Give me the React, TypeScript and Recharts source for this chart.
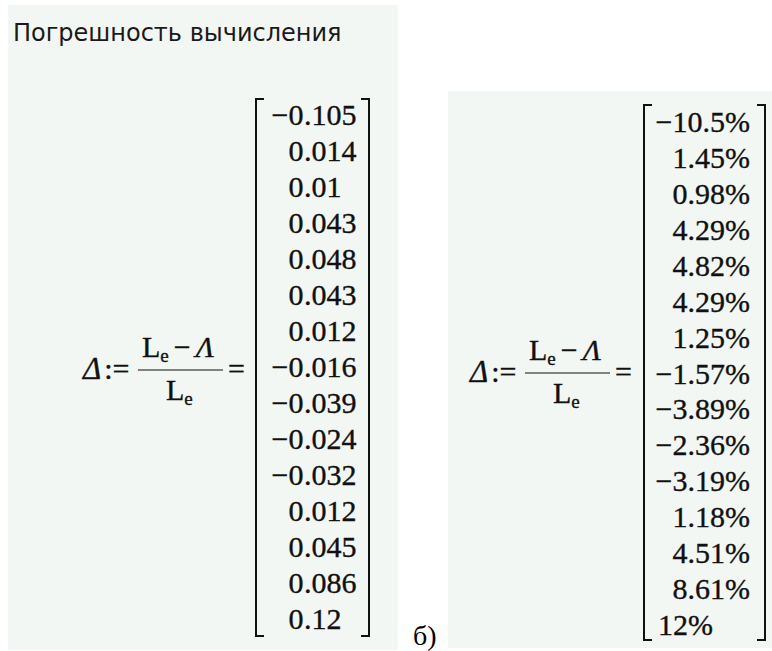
import React from 'react';
import { ScatterChart, Scatter, XAxis, YAxis } from 'recharts';

// ---- data ----
const title = 'Погрешность вычисления';
const panelLabel = 'б)';
const deltaValues = [-0.105, 0.014, 0.01, 0.043, 0.048, 0.043, 0.012, -0.016, -0.039, -0.024, -0.032, 0.012, 0.045, 0.086, 0.12];
const deltaPercent = [-10.5, 1.45, 0.98, 4.29, 4.82, 4.29, 1.25, -1.57, -3.89, -2.36, -3.19, 1.18, 4.51, 8.61, 12];

const fmtDecimal = (v: number) => String(v).replace('-', '\u2212');
const fmtPercent = (v: number) => `${String(v).replace('-', '\u2212')}%`;

const decimalRows = deltaValues.map((v, i) => ({ col: 0, row: i, value: v, label: fmtDecimal(v) }));
const percentRows = deltaPercent.map((v, i) => ({ col: 0, row: i, value: v, label: fmtPercent(v) }));

const PANEL_BG = '#f3f7f4';
const INK = '#111';
const MATH_FONT = '"Liberation Serif", serif';
const FS = 30;
const HEAVY = 0.35;

// decimal-aligned text (Mathcad style)
const DecimalCell = (props: any) => {
  const { cx, cy, payload } = props;
  const s: string = payload.label;
  const k = s.indexOf('.');
  const intPart = s.slice(0, k);
  const fracPart = s.slice(k);
  return (
    <g fontFamily={MATH_FONT} fontSize={FS} fill={INK} stroke={INK} strokeWidth={HEAVY}>
      <text x={cx} y={cy + 10} textAnchor="end">{intPart}</text>
      <text x={cx + 0.5} y={cy + 10} textAnchor="start">{fracPart}</text>
    </g>
  );
};

// right-aligned text; whole numbers start at the column's left
const RightCell = (props: any) => {
  const { cx, cy, payload } = props;
  const s: string = payload.label;
  const whole = s.indexOf('.') < 0;
  return (
    <text x={whole ? cx - 92 : cx} y={cy + 10} textAnchor={whole ? 'start' : 'end'} fontFamily={MATH_FONT} fontSize={FS} fill={INK} stroke={INK} strokeWidth={HEAVY}>{s}</text>
  );
};

const Matrix = ({ left, top, width, height, data, margin, shape }: any) => (
  <div style={{ position: 'absolute', left, top }}>
    <ScatterChart width={width} height={height} margin={margin}>
      <XAxis dataKey="col" type="number" domain={[-0.5, 0.5]} hide />
      <YAxis dataKey="row" type="number" domain={[-0.5, 14.5]} reversed hide />
      <Scatter data={data} dataKey="row" isAnimationActive={false} shape={shape} />
    </ScatterChart>
  </div>
);

const Bracket = ({ x1, x2, y1, y2 }: any) => (
  <g stroke={INK} strokeWidth={2} fill="none">
    <path d={`M${x1 + 8},${y1} H${x1} V${y2} H${x1 + 8}`} />
    <path d={`M${x2 - 8},${y1} H${x2} V${y2} H${x2 - 8}`} />
  </g>
);

const Formula = ({ dx, dy }: any) => (
  <g transform={`translate(${dx},${dy})`} fontFamily={MATH_FONT} fill={INK} stroke={INK} strokeWidth={HEAVY}>
    <text x={83} y={379} fontSize={31}>
      <tspan fontStyle="italic">Δ</tspan>
      <tspan dx={3} fontSize={FS}>:=</tspan>
    </text>
    <text x={142} y={357} fontSize={FS}>
      <tspan>L</tspan>
      <tspan fontSize={19} dy={5}>e</tspan>
      <tspan dx={5} dy={-5}>−</tspan>
      <tspan dx={5} fontStyle="italic">Λ</tspan>
    </text>
    <line x1={138} x2={223} y1={370} y2={370} stroke={INK} strokeWidth={1.2} />
    <text x={166} y={400} fontSize={FS}>
      <tspan>L</tspan>
      <tspan fontSize={19} dy={5}>e</tspan>
    </text>
    <text x={228} y={379} fontSize={FS}>=</text>
  </g>
);

export default function App() {
  return (
    <div style={{ position: 'relative', width: 772, height: 651, overflow: 'hidden', background: '#fff' }}>
      <style>{'body{margin:0}'}</style>
      <div style={{ position: 'absolute', left: 8, top: 5, width: 390, height: 645, background: PANEL_BG }} />
      <div style={{ position: 'absolute', left: 448, top: 91, width: 324, height: 557, background: PANEL_BG }} />
      <svg width={772} height={651} style={{ position: 'absolute', left: 0, top: 0 }}>
        <text x={13} y={41} fontFamily='"DejaVu Sans", sans-serif' fontSize={24} fill="#1a1a1a">{title}</text>
        <Formula dx={0} dy={0} />
        <Formula dx={387} dy={3} />
        <Bracket x1={256} x2={369} y1={99} y2={636} />
        <Bracket x1={644} x2={765} y1={105} y2={640} />
        <text x={413} y={645} fontFamily='"Liberation Serif", serif' fontSize={28} fill="#000">{panelLabel}</text>
      </svg>
      <Matrix left={255} top={97} width={115} height={540} data={decimalRows} margin={{ top: 0, right: 18, bottom: 0, left: 0 }} shape={DecimalCell} />
      <Matrix left={643} top={104} width={123} height={539} data={percentRows} margin={{ top: 0, right: 0, bottom: 0, left: 91 }} shape={RightCell} />
    </div>
  );
}
